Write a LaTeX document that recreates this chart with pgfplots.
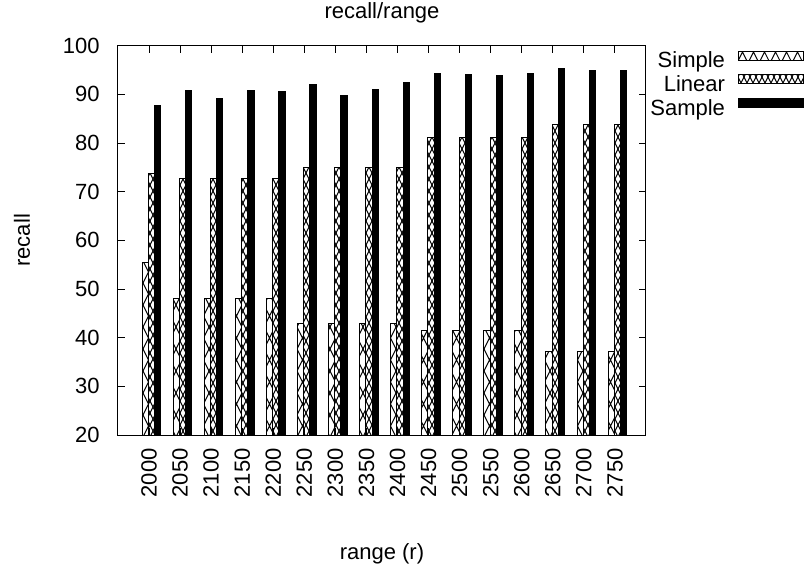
\documentclass[border=0pt]{standalone}
\usepackage{fontspec}
\setmainfont{Liberation Sans}
\usepackage{pgfplots}
\usepackage{pgfplotstable}
\pgfplotsset{compat=1.18}
\usetikzlibrary{patterns}

% big X lattice (Simple)
\pgfdeclarepatternformonly{bigx}{\pgfqpoint{-0.5pt}{-0.5pt}}{\pgfqpoint{6pt}{11.5pt}}{\pgfqpoint{5.5pt}{11pt}}{
  \pgfsetlinewidth{0.45pt}
  \pgfpathmoveto{\pgfqpoint{0pt}{0pt}}\pgfpathlineto{\pgfqpoint{5.5pt}{11pt}}
  \pgfpathmoveto{\pgfqpoint{0pt}{11pt}}\pgfpathlineto{\pgfqpoint{5.5pt}{0pt}}
  \pgfusepath{stroke}}
% small X lattice (Linear)
\pgfdeclarepatternformonly{smallx}{\pgfqpoint{-0.5pt}{-0.5pt}}{\pgfqpoint{3.5pt}{6.5pt}}{\pgfqpoint{3pt}{6pt}}{
  \pgfsetlinewidth{0.5pt}
  \pgfpathmoveto{\pgfqpoint{0pt}{0pt}}\pgfpathlineto{\pgfqpoint{3pt}{6pt}}
  \pgfpathmoveto{\pgfqpoint{0pt}{6pt}}\pgfpathlineto{\pgfqpoint{3pt}{0pt}}
  \pgfusepath{stroke}}

\pgfplotstableread{
idx r    simple linear sample
0  2000 55.4 73.8 87.7
1  2050 48.1 72.8 90.9
2  2100 48.1 72.8 89.2
3  2150 48.1 72.8 90.8
4  2200 48.1 72.8 90.6
5  2250 43.0 74.9 92.1
6  2300 43.0 74.9 89.8
7  2350 43.0 74.9 91.0
8  2400 43.0 74.9 92.4
9  2450 41.4 81.1 94.2
10 2500 41.4 81.1 94.1
11 2550 41.4 81.1 93.9
12 2600 41.4 81.1 94.3
13 2650 37.1 83.9 95.4
14 2700 37.1 83.9 95.0
15 2750 37.1 83.9 94.9
}\recalldata

\newcommand{\chartfont}{\fontsize{11pt}{13pt}\selectfont}

\pgfplotsset{
  boxlegend/.style={legend image code/.code={
    \draw[##1, line width=0.5pt] (0pt,1.5pt) rectangle (32.5pt,6pt);}},
}

\begin{document}
\chartfont
\begin{tikzpicture}
\begin{axis}[
  scale only axis, width=264pt, height=194.65pt,
  xmin=-1, xmax=16, ymin=20, ymax=100,
  enlargelimits=false,
  ytick={20,30,...,100},
  xtick={0,...,15},
  xticklabels={2000,2050,2100,2150,2200,2250,2300,2350,2400,2450,2500,2550,2600,2650,2700,2750},
  tick pos=both, tick align=inside,
  major tick length=3.5pt,
  tick style={black, line width=0.5pt},
  axis line style={line width=0.5pt},
  /pgf/number format/assume math mode=true,
  tick label style={font=\chartfont},
  xticklabel style={rotate=90, anchor=east, inner sep=0pt},
  xticklabel shift=6.5pt,
  yticklabel style={inner sep=0pt},
  yticklabel shift=9pt,
  title={recall/range},
  every axis title shift=0pt,
  title style={at={(axis description cs:0.5,1.0699)}, anchor=base, yshift=0pt, inner sep=0pt, font=\chartfont},
  xlabel={range (r)},
  xlabel style={at={(axis description cs:0.5,-0.321)}, anchor=base, inner sep=0pt, font=\chartfont},
  ylabel={recall},
  ylabel style={at={(axis description cs:-0.1667,0.5)}, anchor=base, inner sep=0pt, font=\chartfont},
  legend style={at={(axis description cs:1.2992,0.9872)}, anchor=north east,
    draw=none, fill=none, inner sep=0pt, outer sep=0pt, column sep=6.5pt,
    nodes={inner sep=0pt, text height=8pt, text depth=3.25pt, font=\chartfont}},
  legend cell align=right,
  legend plot pos=right,
]
\addplot[ybar, bar width=0.2, bar shift=-0.12, draw=black, line width=0.5pt, pattern=bigx, boxlegend]
  table[x=idx, y=simple] {\recalldata};
\addlegendentry{Simple}
\addplot[ybar, bar width=0.2, bar shift=0.08, draw=black, line width=0.5pt, pattern=smallx, boxlegend]
  table[x=idx, y=linear] {\recalldata};
\addlegendentry{Linear}
\addplot[ybar, bar width=0.2, bar shift=0.28, draw=black, fill=black, line width=0.5pt, boxlegend]
  table[x=idx, y=sample] {\recalldata};
\addlegendentry{Sample}
\end{axis}
\pgfresetboundingbox
\path (-59pt,-67pt) rectangle (343.5pt,217.5pt);
\end{tikzpicture}
\end{document}
